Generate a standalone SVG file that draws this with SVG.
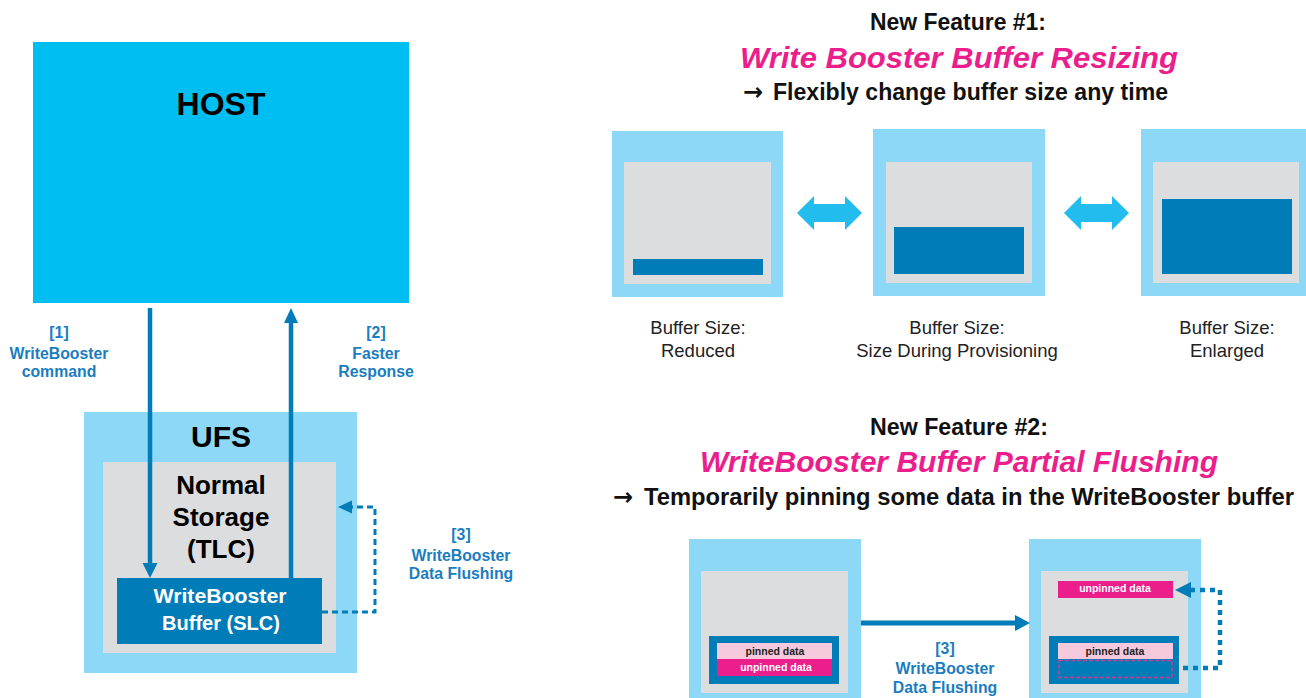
<svg xmlns="http://www.w3.org/2000/svg" width="1306" height="698" viewBox="0 0 1306 698">
<style>
.t{font-family:"Liberation Sans",Arial,sans-serif;}
.b{font-weight:bold;}
.outer{fill:#8ED8F7;}
.gray{fill:#DCDDDF;}
.dark{fill:#007CB8;}
.lbl{font-family:"Liberation Sans",Arial,sans-serif;font-weight:bold;font-size:15.8px;fill:#1A7DC0;text-anchor:middle;}
.cap{font-family:"Liberation Sans",Arial,sans-serif;font-size:18.5px;fill:#222;text-anchor:middle;}
.ttl{font-family:"Liberation Sans",Arial,sans-serif;font-weight:bold;fill:#111;text-anchor:middle;}
.sub{font-family:"Liberation Sans",Arial,sans-serif;font-weight:bold;fill:#111;font-size:23px;}
.arr{font-family:"DejaVu Sans",sans-serif;font-weight:bold;fill:#111;font-size:24px;}
.pink{font-family:"Liberation Sans",Arial,sans-serif;font-weight:bold;font-style:italic;fill:#EC1E8C;text-anchor:middle;}
.conn{stroke:#007CB8;fill:none;}
.ah{fill:#007CB8;}
.dbl{fill:#22BDEE;}
.small{font-family:"Liberation Sans",Arial,sans-serif;font-weight:bold;font-size:10.5px;text-anchor:middle;}
</style>
<rect width="1306" height="698" fill="#fff"/>

<g id="host">
<rect x="33" y="42" width="376" height="261" fill="#00BEF2"/>
<text class="t b" x="221" y="115" font-size="32" text-anchor="middle" fill="#000">HOST</text>
</g>

<g id="ufs">
<rect class="outer" x="84" y="412" width="273" height="261"/>
<text class="t b" x="221" y="447" font-size="30" text-anchor="middle" fill="#000">UFS</text>
</g>
<g id="normal-storage">
<rect class="gray" x="103" y="462" width="233" height="191"/>
<text class="t b" font-size="26" text-anchor="middle" fill="#000"><tspan x="221" y="494">Normal</tspan><tspan x="221" y="526">Storage</tspan><tspan x="221" y="558">(TLC)</tspan></text>
</g>
<g id="wb-buffer">
<rect class="dark" x="117" y="578" width="205" height="66"/>
<text class="t b" font-size="20" text-anchor="middle" fill="#fff"><tspan x="220" y="603" textLength="133" lengthAdjust="spacingAndGlyphs">WriteBooster</tspan><tspan x="221" y="630" textLength="118" lengthAdjust="spacingAndGlyphs">Buffer (SLC)</tspan></text>
</g>

<g id="labels-left">
<text class="lbl"><tspan x="59" y="338">[1]</tspan><tspan x="59" y="359">WriteBooster</tspan><tspan x="59" y="377">command</tspan></text>
<text class="lbl"><tspan x="376" y="338">[2]</tspan><tspan x="376" y="359">Faster</tspan><tspan x="376" y="377">Response</tspan></text>
<text class="lbl"><tspan x="461" y="540">[3]</tspan><tspan x="461" y="561">WriteBooster</tspan><tspan x="461" y="579">Data Flushing</tspan></text>
</g>

<g id="feature1-title">
<text class="ttl" x="958" y="30" font-size="23" textLength="176" lengthAdjust="spacingAndGlyphs">New Feature #1:</text>
<text class="pink" x="959" y="68" font-size="30" textLength="438" lengthAdjust="spacingAndGlyphs">Write Booster Buffer Resizing</text>
<text class="arr" x="743" y="100">→</text>
<text class="sub" x="773" y="100" textLength="395" lengthAdjust="spacingAndGlyphs">Flexibly change buffer size any time</text>
</g>

<g id="buf-reduced">
<rect class="outer" x="612" y="131" width="171" height="166"/>
<rect class="gray" x="624" y="162" width="147" height="122"/>
<rect class="dark" x="633" y="259" width="130" height="16"/>
<text class="cap"><tspan x="698" y="334">Buffer Size:</tspan><tspan x="698" y="357">Reduced</tspan></text>
</g>
<g id="buf-provision">
<rect class="outer" x="873" y="129" width="172" height="167"/>
<rect class="gray" x="886" y="162" width="146" height="121"/>
<rect class="dark" x="894" y="227" width="130" height="47"/>
<text class="cap"><tspan x="957" y="334">Buffer Size:</tspan><tspan x="957" y="357">Size During Provisioning</tspan></text>
</g>
<g id="buf-enlarged">
<rect class="outer" x="1141" y="129" width="172" height="167"/>
<rect class="gray" x="1153" y="162" width="146" height="121"/>
<rect class="dark" x="1162" y="199" width="130" height="75"/>
<text class="cap"><tspan x="1227" y="334">Buffer Size:</tspan><tspan x="1227" y="357">Enlarged</tspan></text>
</g>

<g id="feature2-title">
<text class="ttl" x="959" y="435" font-size="23" textLength="178" lengthAdjust="spacingAndGlyphs">New Feature #2:</text>
<text class="pink" x="959" y="472" font-size="30" textLength="518" lengthAdjust="spacingAndGlyphs">WriteBooster Buffer Partial Flushing</text>
<text class="arr" x="613" y="505">→</text>
<text class="sub" x="644" y="505" textLength="650" lengthAdjust="spacingAndGlyphs">Temporarily pinning some data in the WriteBooster buffer</text>
</g>

<g id="flush-before">
<rect class="outer" x="689" y="539" width="172" height="170"/>
<rect class="gray" x="701" y="571" width="147" height="122"/>
<rect class="dark" x="709" y="636" width="130" height="48"/>
<rect x="717" y="643" width="115" height="16" fill="#F7C9DD"/>
<rect x="717" y="659" width="115" height="17" fill="#EC1E8C"/>
<text class="small" x="775" y="655" fill="#222">pinned data</text>
<text class="small" x="776" y="671" fill="#fff">unpinned data</text>
</g>
<g id="flush-after">
<rect class="outer" x="1029" y="539" width="172" height="170"/>
<rect class="gray" x="1041" y="571" width="147" height="122"/>
<rect x="1058" y="581" width="115" height="17" fill="#EC1E8C"/>
<text class="small" x="1115" y="592" fill="#fff">unpinned data</text>
<rect class="dark" x="1049" y="636" width="130" height="48"/>
<rect x="1058" y="643" width="115" height="16" fill="#F7C9DD"/>
<text class="small" x="1115" y="655" fill="#222">pinned data</text>
<rect x="1059" y="660.5" width="113" height="17" fill="none" stroke="#D63A8E" stroke-width="1.5" stroke-dasharray="4,2"/>
</g>
<g id="flush-label">
<text class="lbl"><tspan x="945" y="654">[3]</tspan><tspan x="945" y="674">WriteBooster</tspan><tspan x="945" y="693">Data Flushing</tspan></text>
</g>

<g id="connectors">
<line class="conn" x1="150" y1="308" x2="150" y2="565" stroke-width="4.5"/>
<polygon class="ah" points="142.5,563 157.5,563 150,578"/>
<line class="conn" x1="291" y1="578" x2="291" y2="321" stroke-width="4.5"/>
<polygon class="ah" points="284,323 298,323 291,308"/>
<polyline class="conn" points="322,612 375,612 375,507 350,507" stroke-width="3" stroke-dasharray="6,4"/>
<polygon class="ah" points="338,507 352,500.5 352,513.5"/>
<polygon class="dbl" points="797,213 814,196 814,204 845,204 845,196 862,213 845,230 845,222 814,222 814,230"/>
<polygon class="dbl" points="1064,213 1081,196 1081,204 1112,204 1112,196 1129,213 1112,230 1112,222 1081,222 1081,230"/>
<line class="conn" x1="861" y1="623" x2="1017" y2="623" stroke-width="5"/>
<polygon class="ah" points="1015,615 1030,623 1015,631"/>
<polyline class="conn" points="1183,668 1220,668 1220,590 1189,590" stroke-width="4.5" stroke-dasharray="5,5"/>
<polygon class="ah" points="1175,590 1191,582 1191,598"/>
</g>
</svg>
